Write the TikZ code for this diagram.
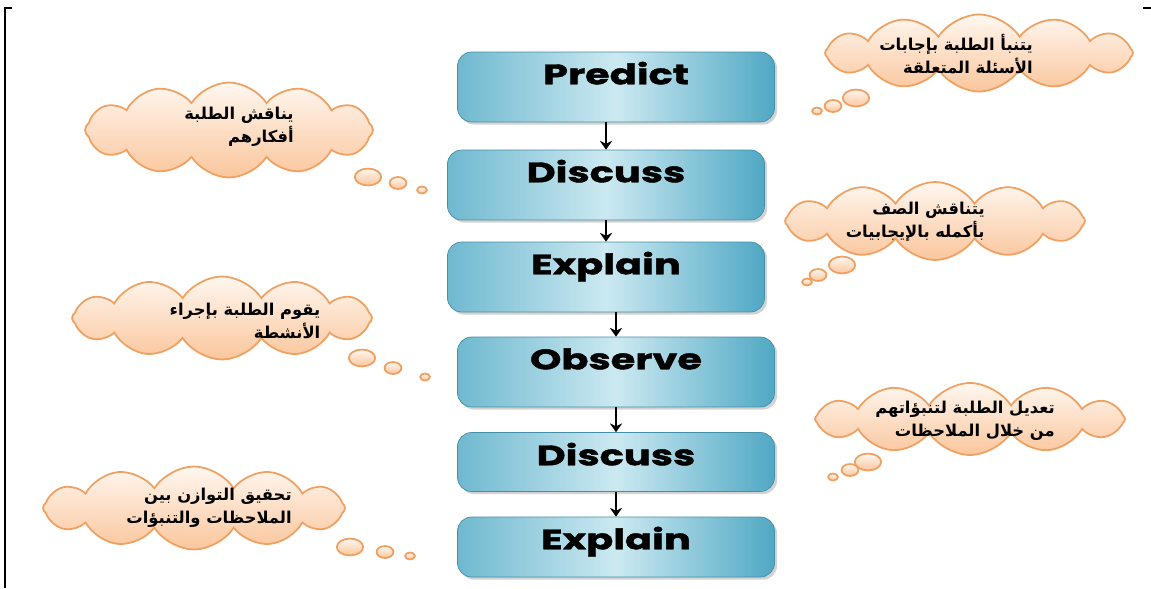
\documentclass[tikz,border=0pt]{standalone}
\usepackage{fontspec}
\usetikzlibrary{shapes.symbols,shadows,arrows.meta}
\TeXXeTstate=1
\newfontfamily\arabicfont[Script=Arabic]{DejaVu Sans}
\newfontfamily\stagefont[FakeStretch=1.42,FakeBold=1.5]{Poppins}
\definecolor{boxdark}{RGB}{80,168,196}
\definecolor{boxlight}{RGB}{204,233,241}
\definecolor{puffline}{RGB}{240,160,96}
\definecolor{pufftop}{RGB}{255,247,240}
\definecolor{puffbottom}{RGB}{250,198,156}
\newcommand{\rtl}[1]{\beginR #1\endR}
\tikzset{
  stagebox/.style={rectangle, rounded corners=8pt, draw=boxdark!85!black, thin,
    left color=boxdark!75!boxlight, right color=boxdark, middle color=boxlight,
    drop shadow={shadow xshift=1.5pt, shadow yshift=-1.5pt, opacity=0.35},
    minimum width=6.34cm, minimum height=1.4cm, text height=0.37cm, text depth=0.48cm,
    font=\stagefont\bfseries\fontsize{16}{18}\selectfont},
  thought/.style={cloud, cloud puffs=12, cloud puff arc=115, cloud ignores aspect,
    draw=puffline, line width=1pt, top color=pufftop, bottom color=puffbottom},
  puff/.style={draw=puffline, line width=1pt, top color=pufftop, bottom color=puffbottom},
  thoughttext/.style={align=right, inner sep=0pt, font=\arabicfont\bfseries\fontsize{9.3}{13}\selectfont},
  flow/.style={-{Stealth[length=5pt,width=7pt]}, line width=1.2pt}
}
\begin{document}
\begin{tikzpicture}[x=0.02cm, y=-0.02cm]
\useasboundingbox (0,0) rectangle (1151,588);
% frame
\draw[line width=1.2pt] (12,8) -- (5,8) -- (5,588);
\draw[line width=1.2pt] (1143,8) -- (1151,8);

% stages
\node[stagebox] (predict) at (616,87) {Predict};
\node[stagebox] (discussA) at (606,185) {Discuss};
\node[stagebox] (explainA) at (606,277) {Explain};
\node[stagebox] (observe) at (616,372) {Observe};
\node[stagebox, minimum height=1.18cm, text depth=0.24cm] (discussB) at (616,462) {Discuss};
\node[stagebox, minimum height=1.2cm, text depth=0.28cm] (explainB) at (616,547) {Explain};

\draw[flow] (predict.south -| discussA.north) -- (discussA.north);
\draw[flow] (discussA.south) -- (explainA.north);
\draw[flow] (explainA.south -| observe.north) -- (observe.north);
\draw[flow] (observe.south) -- (discussB.north);
\draw[flow] (discussB.south) -- (explainB.north);

% thoughts
\draw[puff] (856,98) ellipse (7.5pt and 4.8pt);
\draw[puff] (833,106) ellipse (4.8pt and 3.4pt);
\draw[puff] (817,111) ellipse (2.8pt and 2pt);
\node[thought, minimum width=6.16cm, minimum height=1.54cm] (predictcloud) at (979,53) {};
\node[thoughttext] (predictnote) at (956,54) {\rtl{يتنبأ الطلبة بإجابات}\\\rtl{الأسئلة المتعلقة}};

\draw[puff] (368,177) ellipse (7.5pt and 4.8pt);
\draw[puff] (398,183) ellipse (4.8pt and 3.4pt);
\draw[puff] (422,190) ellipse (2.8pt and 2pt);
\node[thought, minimum width=5.76cm, minimum height=1.9cm] (discusscloud) at (229,130) {};
\node[thoughttext, anchor=east] (discussnote) at (294,127) {\rtl{يناقش الطلبة}\\\rtl{أفكارهم}};

\draw[puff] (842,265) ellipse (7.5pt and 4.8pt);
\draw[puff] (818,275) ellipse (4.8pt and 3.4pt);
\draw[puff] (807,282) ellipse (2.8pt and 2pt);
\node[thought, minimum width=6cm, minimum height=1.56cm] (explaincloud) at (935,221) {};
\node[thoughttext, anchor=east] (explainnote) at (985,222) {\rtl{يتناقش الصف}\\\rtl{بأكمله بالإيجابيات}};

\draw[puff] (362,358) ellipse (7.5pt and 4.8pt);
\draw[puff] (393,368) ellipse (4.8pt and 3.4pt);
\draw[puff] (425,377) ellipse (2.8pt and 2pt);
\node[thought, minimum width=6cm, minimum height=1.66cm] (observecloud) at (222,318) {};
\node[thoughttext] (observenote) at (245,321) {\rtl{يقوم الطلبة بإجراء}\\\rtl{الأنشطة}};

\draw[puff] (868,462) ellipse (7.5pt and 4.8pt);
\draw[puff] (850,470) ellipse (4.8pt and 3.4pt);
\draw[puff] (833,477) ellipse (2.8pt and 2pt);
\node[thought, minimum width=6.2cm, minimum height=1.44cm] (revisecloud) at (970,419) {};
\node[thoughttext] (revisenote) at (965,421) {\rtl{تعديل الطلبة لتنبؤاتهم}\\\rtl{من خلال الملاحظات}};

\draw[puff] (350,547) ellipse (7.5pt and 4.8pt);
\draw[puff] (385,552) ellipse (4.8pt and 3.4pt);
\draw[puff] (410,556) ellipse (2.8pt and 2pt);
\node[thought, minimum width=6.04cm, minimum height=1.66cm] (balancecloud) at (194,508) {};
\node[thoughttext, anchor=east] (balancenote) at (292,508) {\rtl{تحقيق التوازن بين}\\\rtl{الملاحظات والتنبؤات}};
\end{tikzpicture}
\end{document}
